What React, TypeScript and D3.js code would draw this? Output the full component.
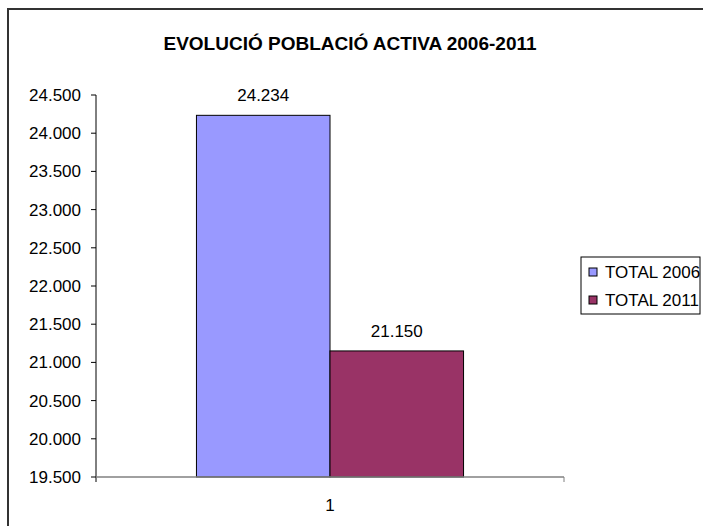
import React from "react";
import * as d3 from "d3";

const categories = ["1"];
const seriesNames = ["TOTAL 2006", "TOTAL 2011"];
const seriesValues = [[24234], [21150]];
const seriesColors = ["#9999FF", "#993366"];
const yTicks = [19500, 20000, 20500, 21000, 21500, 22000, 22500, 23000, 23500, 24000, 24500];
const title = "EVOLUCIÓ POBLACIÓ ACTIVA 2006-2011";

const W = 703;
const H = 526;
const plot = { left: 96, right: 564, top: 95, bottom: 477 };
const FONT = "'Liberation Sans', Arial, sans-serif";

const locale = d3.formatLocale({ decimal: ",", thousands: ".", grouping: [3], currency: ["", "€"] });
const fmt = locale.format(",.0f");
const fmtTick = locale.format(",.3f");

export default function App() {
  const y = d3.scaleLinear().domain([19500, 24500]).range([plot.bottom, plot.top]);
  const p = 0.2733;
  const x0 = d3.scaleBand<string>().domain(categories).range([plot.left, plot.right]).paddingInner(p).paddingOuter(p);
  const x1 = d3.scaleBand<string>().domain(seriesNames).range([0, x0.bandwidth()]).padding(0);

  return (
    <svg width={W} height={H} style={{ position: "absolute", left: 0, top: 0, background: "#fff" }} fontFamily={FONT}>
      <rect x={0} y={0} width={W} height={H} fill="#fff" />
      <rect x={8} y={9} width={W + 20} height={H + 20} fill="none" stroke="#333" strokeWidth={2} />
      <text x={350} y={50} textAnchor="middle" fontWeight="bold" fontSize={19} fill="#000">
        {title}
      </text>

      {/* y axis */}
      <line x1={plot.left} x2={plot.left} y1={plot.top} y2={plot.bottom + 5} stroke="#000" strokeWidth={1} />
      {yTicks.map((t) => (
        <g key={t}>
          <line x1={plot.left - 5} x2={plot.left} y1={y(t)} y2={y(t)} stroke="#000" />
          <text x={plot.left - 15} y={y(t) + 6} textAnchor="end" fontSize={17} fill="#000">
            {fmt(t)}
          </text>
        </g>
      ))}

      {/* bars */}
      {categories.map((c, ci) => (
        <g key={c} transform={`translate(${x0(c)},0)`}>
          {seriesNames.map((s, si) => {
            const v = seriesValues[si][ci];
            const bx = x1(s)!;
            return (
              <g key={s}>
                <rect
                  x={bx}
                  y={y(v)}
                  width={x1.bandwidth()}
                  height={y(19500) - y(v)}
                  fill={seriesColors[si]}
                  stroke="#000"
                  strokeWidth={1}
                />
                <text x={bx + x1.bandwidth() / 2} y={y(v) - 14} textAnchor="middle" fontSize={17} fill="#000">
                  {fmt(v)}
                </text>
              </g>
            );
          })}
        </g>
      ))}

      {/* x axis */}
      <line x1={plot.left} x2={plot.right} y1={plot.bottom} y2={plot.bottom} stroke="#808080" strokeWidth={1.5} />
      <line x1={plot.right} x2={plot.right} y1={plot.bottom} y2={plot.bottom + 5} stroke="#808080" />
      {categories.map((c) => (
        <text key={c} x={x0(c)! + x0.bandwidth() / 2} y={511} textAnchor="middle" fontSize={17} fill="#000">
          {c}
        </text>
      ))}

      {/* legend */}
      <rect x={581} y={257} width={119} height={57} fill="#fff" stroke="#000" strokeWidth={1} />
      {seriesNames.map((s, i) => (
        <g key={s} transform={`translate(589, ${272 + i * 28})`}>
          <rect x={0} y={-4} width={8} height={8} fill={seriesColors[i]} stroke="#000" />
          <text x={16} y={6} fontSize={17} fill="#000">
            {s}
          </text>
        </g>
      ))}
    </svg>
  );
}
